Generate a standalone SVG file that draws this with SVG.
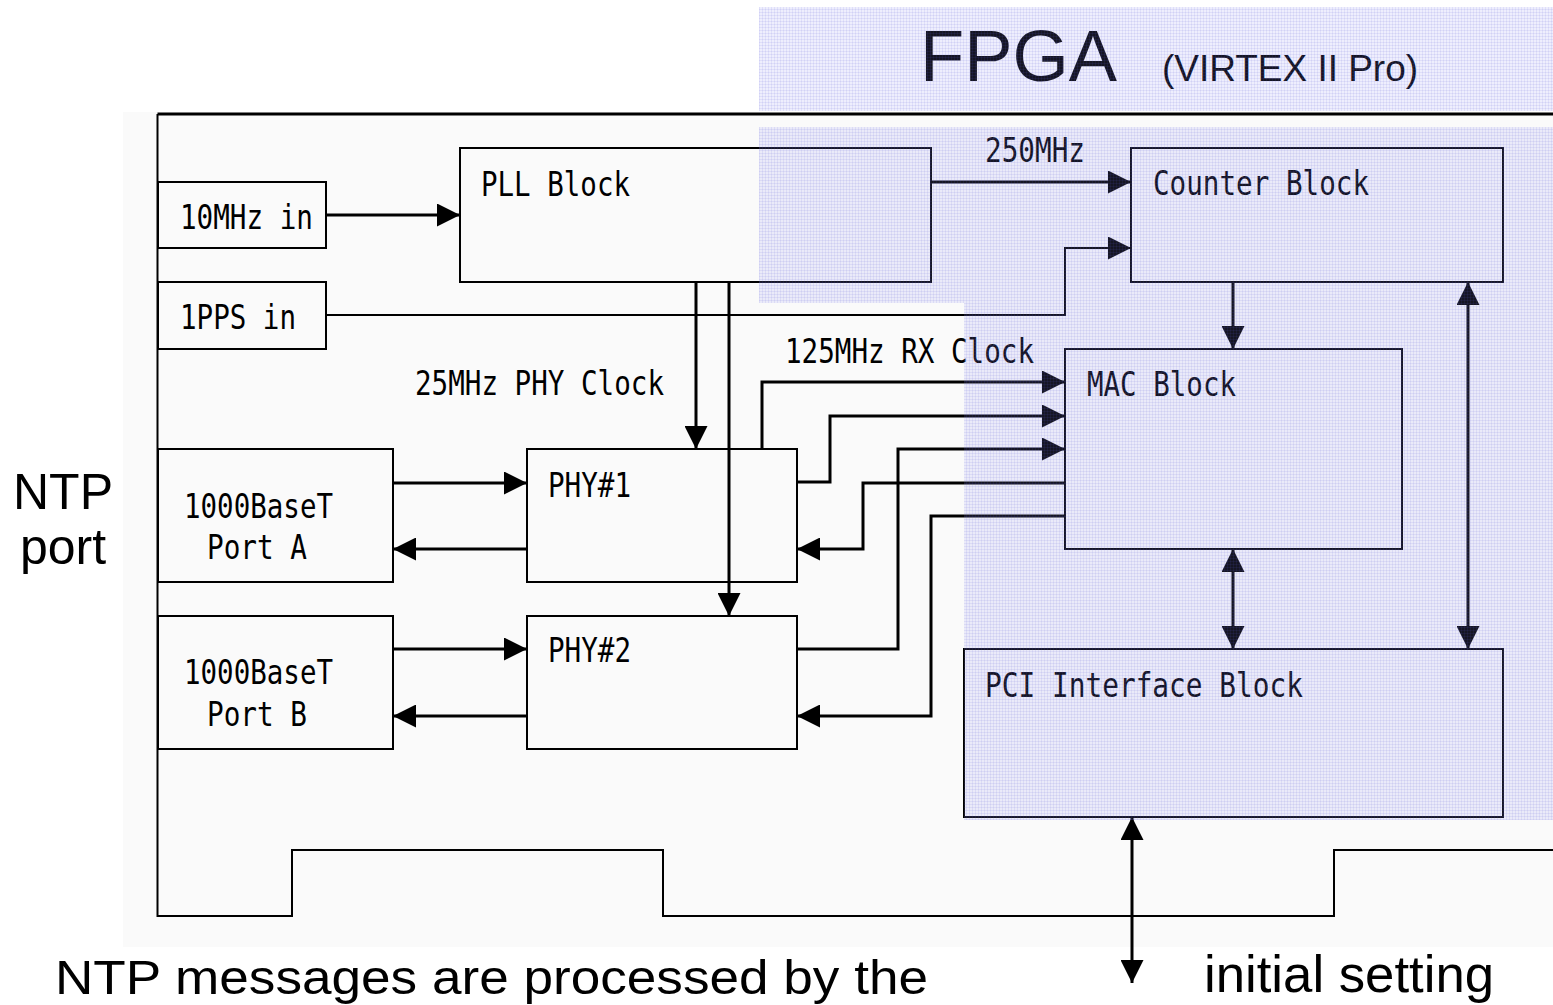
<svg xmlns="http://www.w3.org/2000/svg" width="1553" height="1005" viewBox="0 0 1553 1005">
  <defs>
    <pattern id="grid" width="3" height="3" patternUnits="userSpaceOnUse">
      <rect width="3" height="3" fill="#8a8af0" fill-opacity="0.15"/>
      <rect width="3" height="1" fill="#5a5ae0" fill-opacity="0.1"/>
      <rect width="1" height="3" fill="#5a5ae0" fill-opacity="0.1"/>
    </pattern>
    <marker id="ah" markerUnits="userSpaceOnUse" markerWidth="23" markerHeight="23" refX="23" refY="11.5" orient="auto-start-reverse">
      <path d="M0,0 L23,11.5 L0,23 z" fill="#000"/>
    </marker>
  </defs>
  <style>
    .box { fill: none; stroke: #000; stroke-width: 2; }
    .lb { font-family: "DejaVu Sans Mono", "Liberation Mono", monospace; font-size: 33px; fill: #000; }
    .big { font-family: "Liberation Sans", Arial, sans-serif; fill: #000; }
    .cn { fill: none; stroke: #000; stroke-width: 3; }
    .thin { stroke-width: 2; }
    .end { marker-end: url(#ah); }
    .both { marker-start: url(#ah); marker-end: url(#ah); }
  </style>

  <rect width="1553" height="1005" fill="#ffffff"/>
  <rect x="123" y="112" width="1430" height="835" fill="#fafafa"/>

  <g id="board">
    <path d="M1553,114 H157.5" fill="none" stroke="#000" stroke-width="3"/>
    <path d="M157.5,114 V916 H292 V850 H663 V916 H1334 V850 H1553" fill="none" stroke="#000" stroke-width="2"/>
  </g>

  <g id="fpga-title">
    <text class="big" x="920" y="81" font-size="73" textLength="197" lengthAdjust="spacingAndGlyphs">FPGA</text>
    <text class="big" x="1162" y="81" font-size="36" textLength="256" lengthAdjust="spacingAndGlyphs">(VIRTEX II Pro)</text>
  </g>

  <g id="node-10mhz">
    <rect class="box" x="158" y="182" width="168" height="66"/>
    <text class="lb" x="180" y="229" textLength="133" lengthAdjust="spacingAndGlyphs">10MHz in</text>
  </g>
  <g id="node-1pps">
    <rect class="box" x="158" y="282" width="168" height="67"/>
    <text class="lb" x="180" y="329" textLength="116" lengthAdjust="spacingAndGlyphs">1PPS in</text>
  </g>
  <g id="node-pll">
    <rect class="box" x="460" y="148" width="471" height="134"/>
    <text class="lb" x="481" y="196" textLength="149" lengthAdjust="spacingAndGlyphs">PLL Block</text>
  </g>
  <g id="node-counter">
    <rect class="box" x="1131" y="148" width="372" height="134"/>
    <text class="lb" x="1153" y="195" textLength="216" lengthAdjust="spacingAndGlyphs">Counter Block</text>
  </g>
  <g id="node-mac">
    <rect class="box" x="1065" y="349" width="337" height="200"/>
    <text class="lb" x="1087" y="396" textLength="149" lengthAdjust="spacingAndGlyphs">MAC Block</text>
  </g>
  <g id="node-pci">
    <rect class="box" x="964" y="649" width="539" height="168"/>
    <text class="lb" x="985" y="697" textLength="318" lengthAdjust="spacingAndGlyphs">PCI Interface Block</text>
  </g>
  <g id="node-porta">
    <rect class="box" x="158" y="449" width="235" height="133"/>
    <text class="lb" x="184" y="518" textLength="149" lengthAdjust="spacingAndGlyphs">1000BaseT</text>
    <text class="lb" x="207" y="559" textLength="100" lengthAdjust="spacingAndGlyphs">Port A</text>
  </g>
  <g id="node-portb">
    <rect class="box" x="158" y="616" width="235" height="133"/>
    <text class="lb" x="184" y="684" textLength="149" lengthAdjust="spacingAndGlyphs">1000BaseT</text>
    <text class="lb" x="207" y="726" textLength="100" lengthAdjust="spacingAndGlyphs">Port B</text>
  </g>
  <g id="node-phy1">
    <rect class="box" x="527" y="449" width="270" height="133"/>
    <text class="lb" x="548" y="497" textLength="83" lengthAdjust="spacingAndGlyphs">PHY#1</text>
  </g>
  <g id="node-phy2">
    <rect class="box" x="527" y="616" width="270" height="133"/>
    <text class="lb" x="548" y="662" textLength="83" lengthAdjust="spacingAndGlyphs">PHY#2</text>
  </g>

  <g id="connectors">
    <path class="cn end" d="M326,215 H460"/>
    <path class="cn end" d="M931,182 H1131"/>
    <path class="cn thin end" d="M326,315 H1065 V248 H1131"/>
    <path class="cn end" d="M696,282 V449"/>
    <path class="cn end" d="M729,282 V616"/>
    <path class="cn end" d="M393,483 H527"/>
    <path class="cn end" d="M527,549 H393"/>
    <path class="cn end" d="M393,649 H527"/>
    <path class="cn end" d="M527,716 H393"/>
    <path class="cn end" d="M762,449 V382 H1065"/>
    <path class="cn end" d="M797,482 H830 V416 H1065"/>
    <path class="cn end" d="M797,649 H898 V449 H1065"/>
    <path class="cn end" d="M1065,483 H863 V549 H797"/>
    <path class="cn end" d="M1065,516 H931 V716 H797"/>
    <path class="cn end" d="M1233,282 V349"/>
    <path class="cn both" d="M1233,549 V649"/>
    <path class="cn both" d="M1468,282 V649"/>
    <path class="cn both" d="M1132,817 V983"/>
  </g>

  <g id="connector-labels">
    <text class="lb" x="985" y="162" textLength="100" lengthAdjust="spacingAndGlyphs">250MHz</text>
    <text class="lb" x="415" y="395" textLength="249" lengthAdjust="spacingAndGlyphs">25MHz PHY Clock</text>
    <text class="lb" x="785" y="363" textLength="249" lengthAdjust="spacingAndGlyphs">125MHz RX Clock</text>
  </g>

  <g id="fpga-region">
    <rect x="759" y="7" width="794" height="104" fill="url(#grid)"/>
    <path d="M759,127 H1553 V820 H964 V303 H759 z" fill="url(#grid)"/>
  </g>

  <g id="annotations">
    <text class="big" x="63" y="509" font-size="50" text-anchor="middle">NTP</text>
    <text class="big" x="63" y="564" font-size="50" text-anchor="middle">port</text>
    <text class="big" x="1204" y="992" font-size="52" textLength="290" lengthAdjust="spacingAndGlyphs">initial setting</text>
    <text class="big" x="55" y="994" font-size="48" textLength="873" lengthAdjust="spacingAndGlyphs">NTP messages are processed by the</text>
  </g>
</svg>
